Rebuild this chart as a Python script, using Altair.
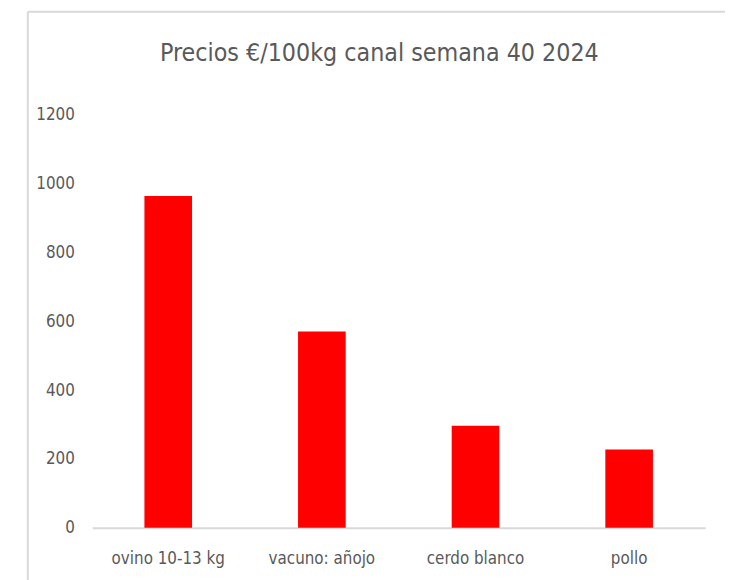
import altair as alt
import pandas as pd

categories = ["ovino 10-13 kg", "vacuno: añojo", "cerdo blanco", "pollo"]
values = [964, 570, 296, 227]
y_ticks = [0, 200, 400, 600, 800, 1000, 1200]
title_text = "Precios €/100kg canal semana 40 2024"

df = pd.DataFrame({"cat": categories, "val": values})
one = pd.DataFrame({"t": [title_text]})

FONT = "Liberation Sans Narrow, DejaVu Sans Condensed, Roboto"
W, H = 619, 417

bars = alt.Chart(df).mark_bar(color="#ff0000").encode(
    x=alt.X("cat:N", sort=categories, title=None,
            scale=alt.Scale(paddingInner=0.69, paddingOuter=0.34),
            axis=alt.Axis(labelAngle=0, labelFontSize=17, labelColor="#595959",
                          labelFont=FONT, labelPadding=23, ticks=False,
                          domainColor="#d9d9d9", domainWidth=2)),
    y=alt.Y("val:Q", title=None,
            scale=alt.Scale(domain=[0, 1200]),
            axis=alt.Axis(values=y_ticks, labelFontSize=17, labelColor="#595959",
                          labelFont=FONT, labelPadding=18, ticks=False, format="d",
                          domain=False, grid=False)),
)

frame_left = alt.Chart(one).mark_rule(color="#d9d9d9", strokeWidth=2).encode(
    x=alt.value(-65), y=alt.value(-104), y2=alt.value(470))
frame_top = alt.Chart(one).mark_rule(color="#d9d9d9", strokeWidth=2).encode(
    x=alt.value(-65), x2=alt.value(660), y=alt.value(-104))
title = alt.Chart(one).mark_text(fontSize=25, font=FONT, color="#595959",
                                 baseline="middle", align="center").encode(
    text="t:N", x=alt.value(290), y=alt.value(-62))

chart = alt.layer(frame_left, frame_top, title, bars).properties(
    width=W, height=H,
    autosize=alt.AutoSizeParams(type="none"),
    padding={"left": 85, "top": 105, "right": 20, "bottom": 50},
).configure_view(stroke=None)

chart.save("out.html", embed_options={"renderer": "svg", "actions": False})
